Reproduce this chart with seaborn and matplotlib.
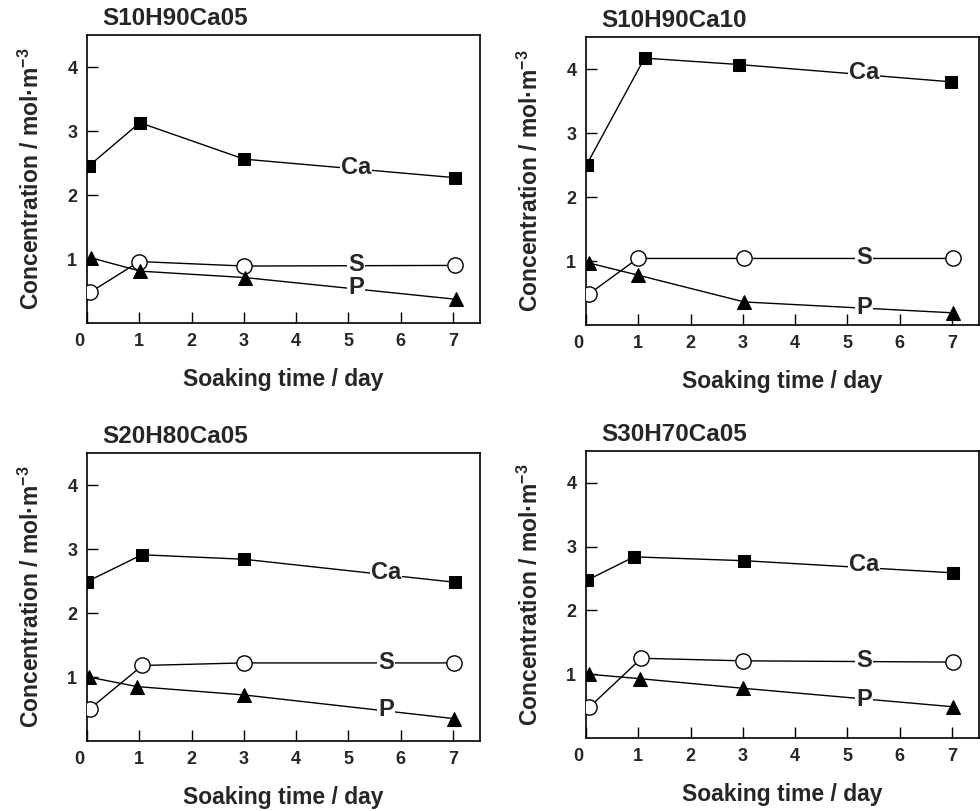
import matplotlib
matplotlib.use("Agg")
import matplotlib.pyplot as plt
import matplotlib.transforms as mtransforms
import seaborn as sns
import pandas as pd

sns.set_theme(style="white")
plt.rcParams["font.family"] = ["Liberation Sans", "DejaVu Sans"]
plt.rcParams["font.weight"] = "bold"
plt.rcParams["axes.labelweight"] = "bold"
plt.rcParams["axes.titleweight"] = "bold"
plt.rcParams["mathtext.fontset"] = "custom"
plt.rcParams["mathtext.rm"] = "Liberation Sans:bold"
plt.rcParams["mathtext.it"] = "Liberation Sans:bold"
plt.rcParams["mathtext.bf"] = "Liberation Sans:bold"
plt.rcParams["mathtext.default"] = "rm"

# ---- data ----
titles = ["S10H90Ca05", "S10H90Ca10", "S20H80Ca05", "S30H70Ca05"]
series = ["Ca", "S", "P"]

# plotted day positions (slightly offset in the original figure)
x_ca = [[0.03, 1.01, 3.01, 7.05], [0.01, 1.12, 2.93, 6.98],
        [0.00, 1.05, 3.00, 7.04], [0.01, 0.92, 3.03, 7.02]]
x_s = [[0.06, 1.00, 3.01, 7.05], [0.05, 0.99, 3.03, 7.03],
       [0.05, 1.06, 3.00, 7.02], [0.06, 1.06, 3.00, 7.02]]
x_p = [[0.07, 1.02, 3.02, 7.07], [0.05, 0.99, 3.03, 7.03],
       [0.03, 0.96, 3.00, 7.02], [0.06, 1.03, 3.00, 7.02]]

ca = [[2.45, 3.13, 2.56, 2.27], [2.50, 4.17, 4.07, 3.80],
      [2.49, 2.91, 2.84, 2.48], [2.47, 2.84, 2.78, 2.59]]
s = [[0.48, 0.96, 0.89, 0.90], [0.48, 1.04, 1.04, 1.04],
     [0.50, 1.18, 1.22, 1.22], [0.48, 1.25, 1.21, 1.19]]
p = [[1.02, 0.81, 0.71, 0.37], [0.97, 0.78, 0.36, 0.19],
     [1.00, 0.85, 0.72, 0.35], [1.00, 0.93, 0.78, 0.49]]

# in-line label positions (day, concentration)
lab_x = [5.15, 5.32, 5.72, 5.32]
lab_ca = [2.43, 3.94, 2.63, 2.72]
lab_s = [0.91, 1.05, 1.23, 1.21]
lab_p = [0.56, 0.28, 0.50, 0.60]

xticks = [0, 1, 2, 3, 4, 5, 6, 7]
yticks = [1, 2, 3, 4]

# ---- layout ----
W, H = 980, 811
fig = plt.figure(figsize=(W / 100, H / 100), dpi=100)
boxes = [(87, 35, 480, 323), (586, 37, 979, 325),
         (87, 453, 480, 741), (586, 451, 979, 738)]

styles = {
    "Ca": dict(marker="s", markersize=9, markerfacecolor="black", markeredgecolor="black"),
    "S": dict(marker="o", markersize=11, markerfacecolor="white", markeredgecolor="black", markeredgewidth=1.0),
    "P": dict(marker="^", markersize=10, markerfacecolor="black", markeredgecolor="black"),
}

for i, (l, t, r, b) in enumerate(boxes):
    ax = fig.add_axes([l / W, 1 - b / H, (r - l) / W, (b - t) / H])
    rows = []
    for name, xs, ys in (("Ca", x_ca[i], ca[i]), ("S", x_s[i], s[i]), ("P", x_p[i], p[i])):
        for xv, yv in zip(xs, ys):
            rows.append(dict(day=xv, conc=yv, ion=name))
    df = pd.DataFrame(rows)
    for name in series:
        sub = df[df["ion"] == name]
        sns.lineplot(data=sub, x="day", y="conc", ax=ax, color="black",
                     linewidth=1.0, sort=False, estimator=None, legend=False,
                     zorder=3, **styles[name])

    for txt, yv in (("Ca", lab_ca[i]), ("S", lab_s[i]), ("P", lab_p[i])):
        ax.text(lab_x[i], yv, txt, fontsize=17, fontweight="bold", ha="center",
                va="center", zorder=5,
                bbox=dict(boxstyle="square,pad=0.05", facecolor="white", edgecolor="none"))

    ax.set_xlim(0, 7.52)
    ax.set_ylim(0, 4.5)
    ax.set_xticks(xticks)
    ax.set_xticklabels([str(v) for v in xticks])
    ax.set_yticks(yticks)
    ax.set_yticklabels([str(v) for v in yticks])
    ax.tick_params(axis="both", direction="in", length=8, width=1.0, color="black",
                   labelsize=13, pad=7, bottom=True, left=True, top=False, right=False)
    for lab in ax.get_xticklabels() + ax.get_yticklabels():
        lab.set_fontweight("bold")
    for sp in ax.spines.values():
        sp.set_color("black")
        sp.set_linewidth(1.2)

    ax.set_xlabel("Soaking time / day", fontsize=16.5, fontweight="bold", labelpad=13)
    ax.set_ylabel("Concentration / mol·m$^{-3}$", fontsize=16.5, fontweight="bold", labelpad=17)
    ax.set_title(titles[i], loc="left", x=0.04, pad=7, fontsize=17.5, fontweight="bold")

    # the "0" label sits a little left of the axis origin in the original
    zero = ax.get_xticklabels()[0]
    zero.set_transform(zero.get_transform() + mtransforms.ScaledTranslation(-8 / 100, 0, fig.dpi_scale_trans))

fig.savefig("out.png", dpi=100)
